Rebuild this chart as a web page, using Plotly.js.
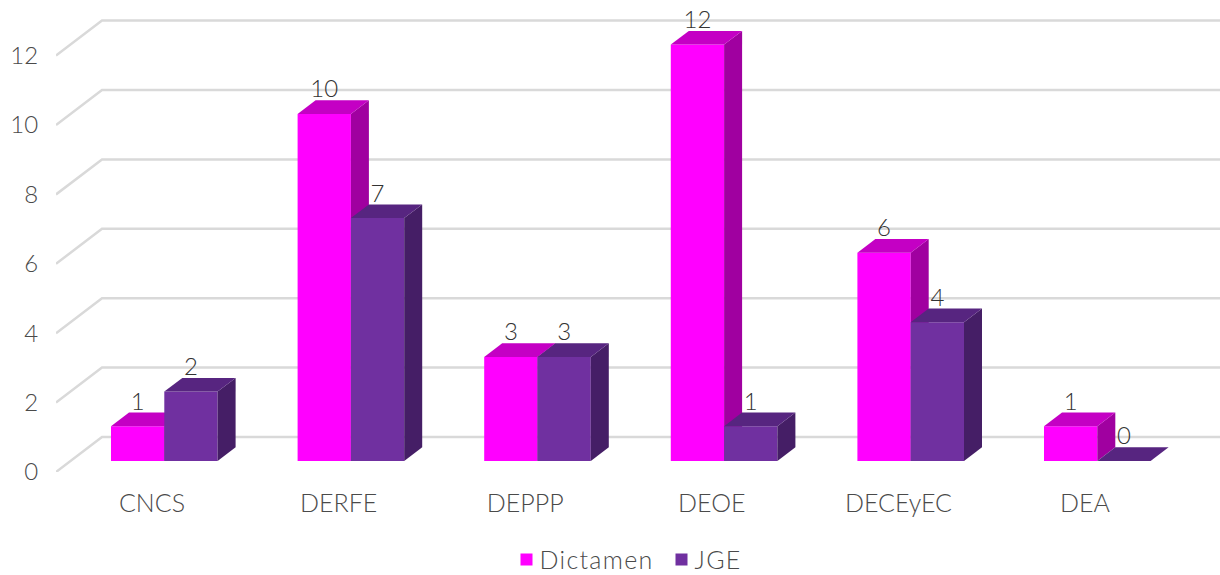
<!DOCTYPE html>
<html><head><meta charset="utf-8">
<script src="https://cdn.plot.ly/plotly-3.0.1.min.js"></script>
<style>html,body{margin:0;padding:0;background:#fff}#c{width:1220px;height:575px}
.legendtext{letter-spacing:1.3px}</style>
</head><body><div id="c"></div>
<script>
// ---- data ----
const categories = ['CNCS','DERFE','DEPPP','DEOE','DECEyEC','DEA'];
const dictamen   = [1,10,3,12,6,1];
const jge        = [2,7,3,1,4,0];
const yTicks     = [0,2,4,6,8,10,12];

// ---- layout constants (pixels → axis units) ----
const W=1220,H=575,L=56,B=103,T=0;
const pxX=186.6, pxY=34.7;            // px per category, px per value
const cat0=152;                        // pixel of first category
const xmin=-(cat0-L)/pxX, xmax=(W-cat0)/pxX;
const ymax=(H-B-T)/pxY;
const barW=53.3/pxX, off1=-41/pxX, off2=12.3/pxX;
const floor=11/pxY;                    // front bar base above the front floor line
const dX=18/pxX, dY=13.7/pxY;          // bar depth
const wallX=46/pxX, wallY=35/pxY;      // side wall depth
const FONT='Lato, "Open Sans", sans-serif';

function barTrace(name,vals,off,color,ax){
  return {type:'bar',name,x:categories.map((_,i)=>i),y:vals,base:vals.map(()=>floor),
    width:barW,offset:off,marker:{color,line:{width:0}},xaxis:ax[0],yaxis:ax[1],hoverinfo:'name+y'};
}
function poly(xs,ys,color,ax){
  return {type:'scatter',mode:'lines',x:xs,y:ys,fill:'toself',fillcolor:color,
    line:{width:0,color},showlegend:false,hoverinfo:'skip',xaxis:ax[0],yaxis:ax[1]};
}
function faces(vals,off,sideC,topC,ax){
  const out=[];
  vals.forEach((v,i)=>{
    const x1=i+off, x2=x1+barW, y0=floor, y1=floor+v;
    if(v>0) out.push(poly([x2,x2+dX,x2+dX,x2,x2],[y1,y1+dY,y0+dY,y0,y1],sideC,ax));
    out.push(poly([x1,x2,x2+dX,x1+dX,x1],[y1,y1,y1+dY,y1+dY,y1],topC,ax));
  });
  return out;
}
const A1=['x','y'],A2=['x2','y2'];
const labelFont={family:FONT,size:24,color:'#333333',weight:300};
const tickFont={family:FONT,size:24,color:'#4A4A4A',weight:300};
const traces=[
  barTrace('Dictamen',dictamen,off1,'#FF00FF',A1),
  ...faces(dictamen,off1,'#A000A0','#C400C4',A1),
  barTrace('JGE',jge,off2,'#7030A0',A2),
  ...faces(jge,off2,'#451E66','#572580',A2),
  {type:'scatter',mode:'text',showlegend:false,hoverinfo:'skip',xaxis:'x2',yaxis:'y2',
   x:categories.map((_,i)=>i+off1+barW/2),y:dictamen.map(v=>v+floor+0.65),text:dictamen.map(String),
   textposition:'middle center',textfont:labelFont,cliponaxis:false},
  {type:'scatter',mode:'text',showlegend:false,hoverinfo:'skip',xaxis:'x2',yaxis:'y2',
   x:categories.map((_,i)=>i+off2+barW/2),y:jge.map(v=>v+floor+0.65),text:jge.map(String),
   textposition:'middle center',textfont:labelFont,cliponaxis:false}
];
const shapes=yTicks.map(t=>({type:'path',layer:'below',xref:'x',yref:'y',
  path:`M${xmin} ${t} L${xmin+wallX} ${t+wallY} L${xmax} ${t+wallY}`,
  line:{color:'#D9D9D9',width:2.5}}));
const layout={
  width:W,height:H,margin:{l:L,r:0,t:T,b:B,pad:0},paper_bgcolor:'#fff',plot_bgcolor:'rgba(0,0,0,0)',
  font:{family:FONT,color:'#595959'},barmode:'overlay',
  xaxis:{range:[xmin,xmax],tickmode:'array',tickvals:categories.map((_,i)=>i),ticktext:categories,
    showgrid:false,zeroline:false,showline:false,ticks:'outside',ticklen:9,tickcolor:'rgba(0,0,0,0)',
    tickfont:{family:FONT,size:25,color:'#4A4A4A',weight:300},fixedrange:true},
  yaxis:{range:[0,ymax],tickmode:'array',tickvals:yTicks,ticktext:yTicks.map(String),
    showgrid:false,zeroline:false,showline:false,ticks:'outside',ticklen:12,tickcolor:'rgba(0,0,0,0)',
    tickfont:tickFont,fixedrange:true},
  xaxis2:{overlaying:'x',range:[xmin,xmax],visible:false,fixedrange:true},
  yaxis2:{overlaying:'y',range:[0,ymax],visible:false,fixedrange:true},
  shapes,
  showlegend:true,
  legend:{orientation:'h',x:(500-L)/(W-L),xanchor:'left',y:(H-B-535)/(H-B),yanchor:'middle',
    font:{size:25,color:'#4A4A4A',family:FONT,weight:300},bgcolor:'rgba(0,0,0,0)'}
};
Plotly.newPlot('c',traces,layout,{displayModeBar:false,responsive:false}).then(gd=>{
  // tighten legend: swatch-to-text gap and item positions, as in the reference
  const leg=gd.querySelector('g.legend');
  const items=leg.querySelectorAll('g.traces');
  items.forEach(g=>{const t=g.querySelector('text.legendtext');t.setAttribute('x',33);});
  const m=/translate\(([-\d.]+)[ ,]*([-\d.]+)?\)/.exec(items[1].getAttribute('transform'));
  items[1].setAttribute('transform',`translate(155,${m[2]||0})`);
  const r=items[0].querySelector('.legendsymbols path').getBoundingClientRect();
  const m2=/translate\(([-\d.]+)[ ,]*([-\d.]+)?\)/.exec(leg.getAttribute('transform'));
  const nx=+m2[1]+526.5-(r.left+r.width/2), ny=+(m2[2]||0)+559.5-(r.top+r.height/2);
  leg.setAttribute('transform',`translate(${nx},${ny})`);
});
</script></body></html>
